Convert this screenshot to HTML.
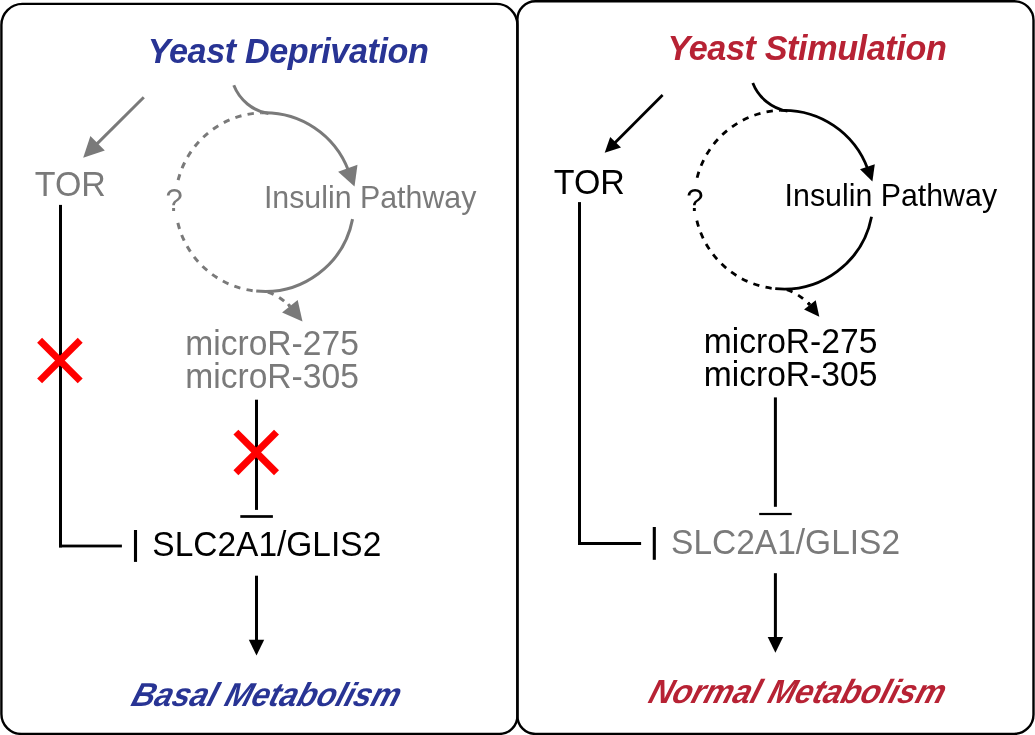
<!DOCTYPE html>
<html><head><meta charset="utf-8"><title>Yeast Deprivation vs Yeast Stimulation</title>
<style>html,body{margin:0;padding:0;background:#fff;}body{width:1035px;height:735px;overflow:hidden;}svg{display:block;will-change:transform;}</style>
</head><body>
<svg width="1035" height="735" viewBox="0 0 1035 735">
<path d="M22.4,3.9 H496.4 A21,21 0 0 1 517.4,24.9 V715.9 A18,18 0 0 1 499.4,733.9 H21.4 A20,20 0 0 1 1.4,713.9 V24.9 A21,21 0 0 1 22.4,3.9 Z" fill="none" stroke="#000" stroke-width="2.4"/>
<path d="M535.4,1.3 H1014.5 A19,19 0 0 1 1033.5,20.3 V714.4 A19.5,19.5 0 0 1 1014.0,733.9 H535.4 A18,18 0 0 1 517.4,715.9 V19.3 A18,18 0 0 1 535.4,1.3 Z" fill="none" stroke="#000" stroke-width="2.4"/>
<line x1="143.80" y1="97.20" x2="95.44" y2="145.42" stroke="#7a7a7a" stroke-width="3.0"/>
<polygon points="83.20,157.70 90.40,136.00 104.80,150.50" fill="#7a7a7a"/>
<path d="M233.79,85.29 A45.8,45.8 0 0 0 268.45,113.60" fill="none" stroke="#7a7a7a" stroke-width="3.0"/>
<path d="M261.68,112.75 A89.4,89.4 0 0 1 348.44,170.52" fill="none" stroke="#7a7a7a" stroke-width="3.0"/>
<polygon points="354.50,186.50 338.10,171.80 357.50,164.70" fill="#7a7a7a"/>
<path d="M352.56,219.16 A89.4,89.4 0 0 1 256.23,291.09" fill="none" stroke="#7a7a7a" stroke-width="3.0"/>
<path d="M252.67,290.67 A89.4,89.4 0 0 1 177.83,222.82" fill="none" stroke="#7a7a7a" stroke-width="3.0" stroke-dasharray="6.3 6.3"/>
<path d="M178.13,180.17 A89.4,89.4 0 0 1 261.68,112.75" fill="none" stroke="#7a7a7a" stroke-width="3.0" stroke-dasharray="6.3 6.3"/>
<path d="M267.80,292.00 Q279.80,296.00 289.90,306.30" fill="none" stroke="#7a7a7a" stroke-width="3.0" stroke-dasharray="6.3 6.3"/>
<polygon points="302.50,321.50 282.10,312.50 297.70,300.10" fill="#7a7a7a"/>
<line x1="288.11" y1="304.14" x2="289.90" y2="306.30" stroke="#7a7a7a" stroke-width="3.0"/>
<line x1="662.60" y1="95.00" x2="613.97" y2="143.75" stroke="#000" stroke-width="2.8"/>
<polygon points="604.70,152.80 610.20,136.90 621.00,147.40" fill="#000"/>
<path d="M752.79,82.89 A45.8,45.8 0 0 0 787.45,111.20" fill="none" stroke="#000" stroke-width="2.8"/>
<path d="M780.68,110.35 A89.4,89.4 0 0 1 867.82,169.15" fill="none" stroke="#000" stroke-width="2.8"/>
<polygon points="872.40,181.40 860.00,169.30 874.80,164.30" fill="#000"/>
<path d="M871.56,216.76 A89.4,89.4 0 0 1 775.23,288.69" fill="none" stroke="#000" stroke-width="2.8"/>
<path d="M771.67,288.27 A89.4,89.4 0 0 1 696.83,220.42" fill="none" stroke="#000" stroke-width="2.8" stroke-dasharray="6.3 6.3"/>
<path d="M697.13,177.77 A89.4,89.4 0 0 1 780.68,110.35" fill="none" stroke="#000" stroke-width="2.8" stroke-dasharray="6.3 6.3"/>
<path d="M786.80,289.60 Q798.80,293.60 809.88,304.85" fill="none" stroke="#000" stroke-width="2.8" stroke-dasharray="6.3 6.3"/>
<polygon points="819.30,316.70 804.05,309.50 815.70,300.20" fill="#000"/>
<line x1="808.13" y1="302.66" x2="809.88" y2="304.85" stroke="#000" stroke-width="2.8"/>
<rect x="59.00" y="204.90" width="3.00" height="342.50" fill="#000"/>
<rect x="59.00" y="544.60" width="62.90" height="2.80" fill="#000"/>
<rect x="133.95" y="530.00" width="3.10" height="31.90" fill="#000"/>
<rect x="255.00" y="399.70" width="3.00" height="110.20" fill="#000"/>
<rect x="240.30" y="515.15" width="32.60" height="2.70" fill="#000"/>
<rect x="255.00" y="575.70" width="3.00" height="65.10" fill="#000"/>
<polygon points="248.80,639.80 264.20,639.80 256.50,655.50" fill="#000"/>
<rect x="578.00" y="202.10" width="3.00" height="342.90" fill="#000"/>
<rect x="578.00" y="542.00" width="63.10" height="3.00" fill="#000"/>
<rect x="652.75" y="527.00" width="3.10" height="32.80" fill="#000"/>
<rect x="773.90" y="397.40" width="3.00" height="109.40" fill="#000"/>
<rect x="759.20" y="512.90" width="32.50" height="2.20" fill="#000"/>
<rect x="773.90" y="573.20" width="3.00" height="64.90" fill="#000"/>
<polygon points="767.70,637.10 783.10,637.10 775.40,652.80" fill="#000"/>
<text x="288.20" y="63.30" text-anchor="middle" style="font-family:'Liberation Sans',Arial,sans-serif;font-weight:bold;font-style:italic;font-size:34.2px;letter-spacing:-0.4px" fill="#283494">Yeast Deprivation</text>
<text transform="translate(34.80,196.00) scale(1,1.025)" x="0" y="0" style="font-family:'Liberation Sans',Arial,sans-serif;font-size:34px" fill="#7a7a7a">TOR</text>
<text x="165.50" y="210.80" style="font-family:'Liberation Sans',Arial,sans-serif;font-size:31px" fill="#7a7a7a">?</text>
<text transform="translate(263.90,208.00) scale(1,1.02)" x="0" y="0" style="font-family:'Liberation Sans',Arial,sans-serif;font-size:30.35px" fill="#7a7a7a">Insulin Pathway</text>
<text transform="translate(272.00,355.00) scale(1,1.025)" x="0" y="0" text-anchor="middle" style="font-family:'Liberation Sans',Arial,sans-serif;font-size:33.6px" fill="#7a7a7a">microR-275</text>
<text transform="translate(272.00,388.00) scale(1,1.025)" x="0" y="0" text-anchor="middle" style="font-family:'Liberation Sans',Arial,sans-serif;font-size:33.6px" fill="#7a7a7a">microR-305</text>
<text transform="translate(152.30,556.00) scale(1,1.025)" x="0" y="0" style="font-family:'Liberation Sans',Arial,sans-serif;font-size:33.5px" fill="#000">SLC2A1/GLIS2</text>
<g transform="translate(263.50,705.70) skewX(-17) scale(0.955,1)"><text x="0" y="0" text-anchor="middle" style="font-family:'Liberation Sans',Arial,sans-serif;font-weight:bold;font-style:italic;font-size:33.2px" fill="#283494">Basal Metabolism</text></g>
<text x="807.00" y="60.40" text-anchor="middle" style="font-family:'Liberation Sans',Arial,sans-serif;font-weight:bold;font-style:italic;font-size:34.2px;letter-spacing:-0.4px" fill="#b72234">Yeast Stimulation</text>
<text transform="translate(553.80,194.00) scale(1,1.025)" x="0" y="0" style="font-family:'Liberation Sans',Arial,sans-serif;font-size:34px" fill="#000">TOR</text>
<text x="686.20" y="211.00" style="font-family:'Liberation Sans',Arial,sans-serif;font-size:31px" fill="#000">?</text>
<text transform="translate(784.60,206.00) scale(1,1.02)" x="0" y="0" style="font-family:'Liberation Sans',Arial,sans-serif;font-size:30.35px" fill="#000">Insulin Pathway</text>
<text transform="translate(790.50,353.00) scale(1,1.025)" x="0" y="0" text-anchor="middle" style="font-family:'Liberation Sans',Arial,sans-serif;font-size:33.6px" fill="#000">microR-275</text>
<text transform="translate(790.50,386.00) scale(1,1.025)" x="0" y="0" text-anchor="middle" style="font-family:'Liberation Sans',Arial,sans-serif;font-size:33.6px" fill="#000">microR-305</text>
<text transform="translate(671.10,554.00) scale(1,1.025)" x="0" y="0" style="font-family:'Liberation Sans',Arial,sans-serif;font-size:33.5px" fill="#7a7a7a">SLC2A1/GLIS2</text>
<g transform="translate(794.60,703.20) skewX(-17) scale(0.955,1)"><text x="0" y="0" text-anchor="middle" style="font-family:'Liberation Sans',Arial,sans-serif;font-weight:bold;font-style:italic;font-size:33.5px" fill="#b72234">Normal Metabolism</text></g>
<line x1="39.599999999999994" y1="340.3" x2="80.2" y2="380.90000000000003" stroke="#ff0000" stroke-width="7"/><line x1="39.599999999999994" y1="380.90000000000003" x2="80.2" y2="340.3" stroke="#ff0000" stroke-width="7"/>
<line x1="235.89999999999998" y1="432.09999999999997" x2="276.5" y2="472.7" stroke="#ff0000" stroke-width="7"/><line x1="235.89999999999998" y1="472.7" x2="276.5" y2="432.09999999999997" stroke="#ff0000" stroke-width="7"/>
</svg>
</body></html>
